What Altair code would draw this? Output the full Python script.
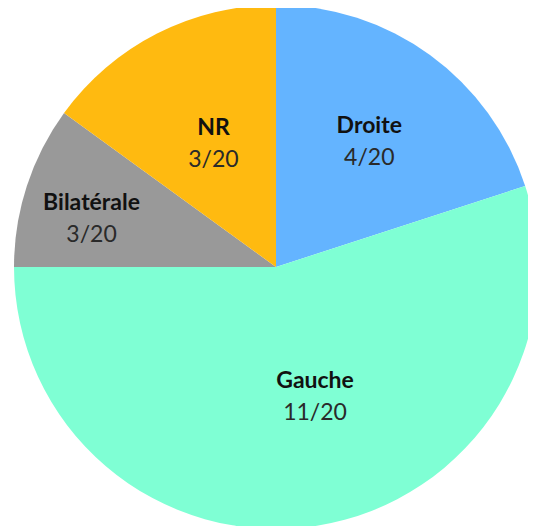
import altair as alt
import pandas as pd

categories = ["Droite", "Gauche", "Bilatérale", "NR"]
values = [4, 11, 2, 3]
fractions = ["4/20", "11/20", "3/20", "3/20"]
colors = ["#64B4FF", "#7FFFD4", "#999999", "#FFBA10"]

df = pd.DataFrame({
    "cat": categories,
    "value": values,
    "frac": fractions,
    "idx": list(range(len(categories))),
})

label_r = {"Droite": 157, "Gauche": 134, "Bilatérale": 192, "NR": 140}
label_shift_deg = {"Gauche": -7.5, "Bilatérale": -3}
r_expr = "".join(f"datum.cat == '{k}' ? {v} : " for k, v in label_r.items()) + "150"
s_expr = "".join(f"datum.cat == '{k}' ? {v} : " for k, v in label_shift_deg.items()) + "0"

CX, CY = 268, 259

pie = alt.Chart(df).mark_arc(radius=262, stroke=None).encode(
    theta=alt.Theta("value:Q", stack=True),
    order=alt.Order("idx:Q"),
    x=alt.value(CX),
    y=alt.value(CY),
    color=alt.Color("cat:N", scale=alt.Scale(domain=categories, range=colors), legend=None),
)

txt = alt.Chart(df).transform_joinaggregate(
    total="sum(value)"
).transform_window(
    cum="sum(value)", sort=[alt.SortField("idx")], frame=[None, 0]
).transform_calculate(
    shift=s_expr,
    lr=r_expr,
).transform_calculate(
    mid="(datum.cum - datum.value / 2) / datum.total * 2 * PI + datum.shift * PI / 180",
).encode(
    theta=alt.Theta("mid:Q", scale=None),
    radius=alt.Radius("lr:Q", scale=None),
    x=alt.value(CX),
    y=alt.value(CY),
)

names = txt.mark_text(font="Lato", fontSize=23, fontWeight="bold", color="#111111",
                      baseline="middle", align="center", dx=1, dy=-14).encode(text="cat:N")

fracs = txt.mark_text(font="Lato", fontSize=23, color="#2a2a2a",
                      baseline="middle", align="center", dx=1, dy=18).encode(text="frac:N")

chart = alt.layer(pie, names, fracs).properties(
    width=520, height=518, padding=0, autosize=alt.AutoSizeParams(type="none")
).configure_view(stroke=None)

chart.save("out.html", embed_options={"renderer": "svg", "actions": False})
